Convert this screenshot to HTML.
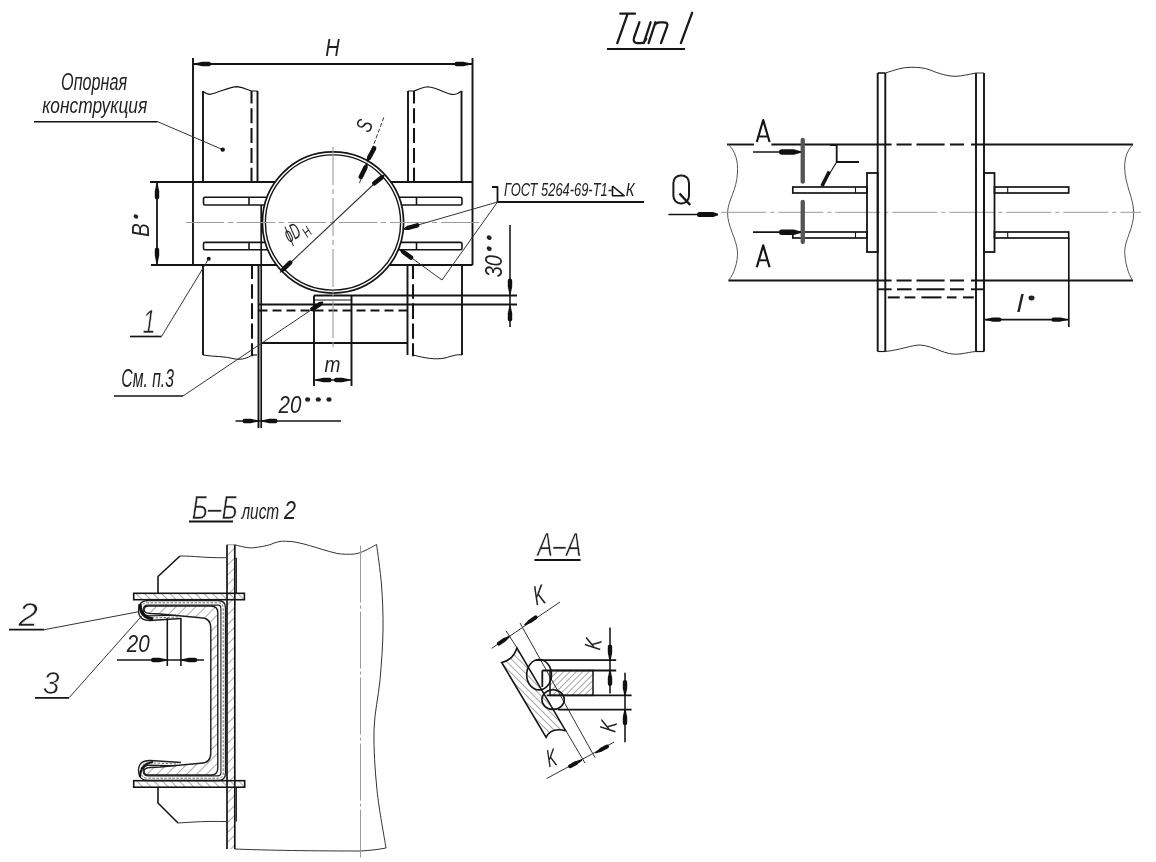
<!DOCTYPE html>
<html><head><meta charset="utf-8"><style>
html,body{margin:0;padding:0;background:#fff;width:1156px;height:862px;overflow:hidden}
svg{display:block;will-change:transform}
text{font-family:"Liberation Sans",sans-serif}
</style></head><body>
<svg width="1156" height="862" viewBox="0 0 1156 862">
<rect width="1156" height="862" fill="#fff"/>
<line x1="193" y1="64" x2="472" y2="64" stroke="#141414" stroke-width="1.8" />
<line x1="202.20" y1="64.00" x2="208.80" y2="64.00" stroke="#111" stroke-width="4.40" stroke-linecap="round"/>
<polygon points="195.00,63.30 201.50,62.02 201.50,65.98 195.00,64.70" fill="#111"/>
<line x1="463.30" y1="64.00" x2="456.70" y2="64.00" stroke="#111" stroke-width="4.40" stroke-linecap="round"/>
<polygon points="470.50,64.70 464.00,65.98 464.00,62.02 470.50,63.30" fill="#111"/>
<line x1="193" y1="58" x2="193" y2="265" stroke="#141414" stroke-width="1.92" />
<line x1="472.5" y1="58" x2="472.5" y2="265" stroke="#141414" stroke-width="1.92" />
<text transform="translate(325.80,56.10) scale(0.8364,1)" x="-0.72" y="0" font-size="23.91" font-style="italic" fill="#222">H</text>
<line x1="203" y1="91" x2="203" y2="182" stroke="#141414" stroke-width="1.92" />
<line x1="257.5" y1="91" x2="257.5" y2="182" stroke="#141414" stroke-width="1.92" />
<line x1="251.5" y1="91" x2="251.5" y2="182" stroke="#141414" stroke-width="2.04" stroke-dasharray="12.5,4.8,15,4.8,15,4.8,15,4.8,15,4.8" />
<line x1="408" y1="91" x2="408" y2="182" stroke="#141414" stroke-width="1.92" />
<line x1="461.5" y1="91" x2="461.5" y2="182" stroke="#141414" stroke-width="1.92" />
<line x1="414" y1="91" x2="414" y2="182" stroke="#141414" stroke-width="2.04" stroke-dasharray="12.5,4.8,15,4.8,15,4.8,15,4.8,15,4.8" />
<path d="M203,91.5 C206,93.5 208,94.4 210,94.4 C220,92 230,86.6 237,86.6 C244,87.5 248,90 251.5,91 L257.5,91" fill="none" stroke="#141414" stroke-width="1.1" />
<path d="M408,91 L414,91 C420,89 424,86.7 428,86.7 C438,87.5 446,94.5 454,94.5 C458,94.5 460,92 461.5,91" fill="none" stroke="#141414" stroke-width="1.1" />
<line x1="150" y1="182" x2="472.5" y2="182" stroke="#141414" stroke-width="1.92" />
<line x1="151" y1="265" x2="472.5" y2="265" stroke="#141414" stroke-width="1.92" />
<rect x="203.5" y="197.2" width="70" height="7.800000000000011" rx="1.5" fill="none" stroke="#141414" stroke-width="1.6"/>
<line x1="249" y1="197.2" x2="249" y2="205" stroke="#141414" stroke-width="1.56" />
<rect x="392" y="197.2" width="70" height="7.800000000000011" rx="1.5" fill="none" stroke="#141414" stroke-width="1.6"/>
<line x1="416.5" y1="197.2" x2="416.5" y2="205" stroke="#141414" stroke-width="1.56" />
<rect x="203.5" y="242.4" width="70" height="7.400000000000006" rx="1.5" fill="none" stroke="#141414" stroke-width="1.6"/>
<line x1="249" y1="242.4" x2="249" y2="249.8" stroke="#141414" stroke-width="1.56" />
<rect x="392" y="242.4" width="70" height="7.400000000000006" rx="1.5" fill="none" stroke="#141414" stroke-width="1.6"/>
<line x1="416.5" y1="242.4" x2="416.5" y2="249.8" stroke="#141414" stroke-width="1.56" />
<line x1="203" y1="265" x2="203" y2="355" stroke="#141414" stroke-width="1.92" />
<line x1="252" y1="265" x2="252" y2="356.3" stroke="#141414" stroke-width="2.04" stroke-dasharray="14,5.2,14.5,4.6,15.7,4.6,15.1,4.6,13" />
<line x1="252" y1="355" x2="257" y2="355" stroke="#141414" stroke-width="1.2" />
<path d="M203,355 C215,357 225,356 235,359 C242,360 248,358 252,355" fill="none" stroke="#141414" stroke-width="1.0" />
<line x1="258.5" y1="265" x2="258.5" y2="428" stroke="#141414" stroke-width="1.92" />
<line x1="261.2" y1="205" x2="261.2" y2="428" stroke="#141414" stroke-width="1.68" />
<line x1="407.5" y1="265" x2="407.5" y2="355" stroke="#141414" stroke-width="1.92" />
<line x1="413" y1="265" x2="413" y2="356.3" stroke="#141414" stroke-width="2.04" stroke-dasharray="14,5.2,14.5,4.6,15.7,4.6,15.1,4.6,13" />
<line x1="462" y1="265" x2="462" y2="355" stroke="#141414" stroke-width="1.92" />
<path d="M413,355 C425,358 435,360 445,358 C452,356 457,354 462,355" fill="none" stroke="#141414" stroke-width="1.0" />
<line x1="314" y1="295.5" x2="517" y2="295.5" stroke="#141414" stroke-width="1.92" />
<line x1="258.5" y1="304.5" x2="517" y2="304.5" stroke="#141414" stroke-width="1.92" />
<line x1="258.5" y1="310.5" x2="407.5" y2="310.5" stroke="#141414" stroke-width="1.92" stroke-dasharray="9,5" />
<line x1="261.5" y1="343" x2="407.5" y2="343" stroke="#141414" stroke-width="1.92" />
<line x1="314" y1="295.5" x2="314" y2="386" stroke="#141414" stroke-width="1.92" />
<line x1="351.5" y1="295.5" x2="351.5" y2="386" stroke="#141414" stroke-width="1.92" />
<line x1="314" y1="300" x2="351.5" y2="300" stroke="#141414" stroke-width="1.0" />
<line x1="314" y1="380" x2="351.5" y2="380" stroke="#141414" stroke-width="1.56" />
<line x1="323.20" y1="380.00" x2="329.30" y2="380.00" stroke="#111" stroke-width="4.40" stroke-linecap="round"/>
<polygon points="316.00,379.30 322.50,378.02 322.50,381.98 316.00,380.70" fill="#111"/>
<line x1="342.30" y1="380.00" x2="336.20" y2="380.00" stroke="#111" stroke-width="4.40" stroke-linecap="round"/>
<polygon points="349.50,380.70 343.00,381.98 343.00,378.02 349.50,379.30" fill="#111"/>
<text transform="translate(324.80,371.90) scale(0.8450,1)" x="-0.34" y="0" font-size="22.59" font-style="italic" fill="#222">m</text>
<line x1="235.5" y1="421" x2="341" y2="421" stroke="#141414" stroke-width="1.56" />
<line x1="250.80" y1="421.00" x2="244.70" y2="421.00" stroke="#111" stroke-width="4.40" stroke-linecap="round"/>
<polygon points="258.00,421.70 251.50,422.98 251.50,419.02 258.00,420.30" fill="#111"/>
<line x1="269.20" y1="421.00" x2="275.30" y2="421.00" stroke="#111" stroke-width="4.40" stroke-linecap="round"/>
<polygon points="262.00,420.30 268.50,419.02 268.50,422.98 262.00,421.70" fill="#111"/>
<text transform="translate(278.50,412.50) scale(0.8662,1)" x="0.12" y="0" font-size="23.71" font-style="italic" fill="#222">20</text>
<ellipse cx="307.6" cy="399.5" rx="2.6" ry="2.2" fill="#222"/>
<ellipse cx="318.3" cy="399.5" rx="2.6" ry="2.2" fill="#222"/>
<ellipse cx="329" cy="399.5" rx="2.6" ry="2.2" fill="#222"/>
<circle cx="333" cy="222.5" r="70.6" fill="#fff" stroke="#141414" stroke-width="1.7"/>
<circle cx="333" cy="222.5" r="67.6" fill="none" stroke="#141414" stroke-width="1.4"/>
<line x1="186" y1="222.5" x2="479" y2="222.5" stroke="#9a9a9a" stroke-width="1.1" stroke-dasharray="38,4,5,4" />
<line x1="333" y1="147" x2="333" y2="350" stroke="#9a9a9a" stroke-width="1.1" stroke-dasharray="38,4,5,4" />
<line x1="157" y1="182" x2="157" y2="265" stroke="#141414" stroke-width="1.8" />
<line x1="157.00" y1="191.20" x2="157.00" y2="197.30" stroke="#111" stroke-width="4.40" stroke-linecap="round"/>
<polygon points="157.70,184.00 158.98,190.50 155.02,190.50 156.30,184.00" fill="#111"/>
<line x1="157.00" y1="255.80" x2="157.00" y2="249.70" stroke="#111" stroke-width="4.40" stroke-linecap="round"/>
<polygon points="156.30,263.00 155.02,256.50 158.98,256.50 157.70,263.00" fill="#111"/>
<text transform="translate(141.20,230.10) rotate(-90) scale(0.8606,1)" x="-7.85" y="8.15" font-size="23.62" font-style="italic" fill="#222">B</text>
<ellipse cx="135.9" cy="216.5" rx="2.4" ry="2" fill="#222" transform="rotate(30 135.9 216.5)"/>
<line x1="383.75" y1="117.5" x2="358.75" y2="185" stroke="#333" stroke-width="1.0" stroke-dasharray="4,2" />
<line x1="369.22" y1="157.50" x2="374.10" y2="148.32" stroke="#111" stroke-width="4.60" stroke-linecap="round"/>
<polygon points="366.58,160.97 367.02,157.24 370.67,159.18 367.82,161.63" fill="#111"/>
<line x1="365.32" y1="167.67" x2="360.77" y2="177.02" stroke="#111" stroke-width="4.60" stroke-linecap="round"/>
<polygon points="367.83,164.11 367.53,167.85 363.81,166.04 366.57,163.49" fill="#111"/>
<text transform="translate(364.30,125.50) rotate(-68) scale(0.7100,1)" x="-7.72" y="7.77" font-size="22.54" font-style="italic" fill="#222">S</text>
<line x1="382.5" y1="176" x2="280" y2="272.5" stroke="#333" stroke-width="1.1" />
<line x1="381.25" y1="177.69" x2="374.33" y2="183.29" stroke="#111" stroke-width="4.60" stroke-linecap="round"/>
<polygon points="384.64,175.84 383.17,178.80 380.57,175.58 383.76,174.76" fill="#111"/>
<line x1="283.74" y1="268.87" x2="290.17" y2="262.71" stroke="#111" stroke-width="4.60" stroke-linecap="round"/>
<polygon points="280.52,270.99 281.73,267.93 284.60,270.92 281.48,272.01" fill="#111"/>
<text transform="translate(293.00,234.30) rotate(-30) scale(0.5314,1)" x="-14.32" y="5.78" font-size="22.46" font-style="italic" fill="#222">ϕD</text>
<text transform="translate(307.00,231.70) rotate(-40) scale(0.6950,1)" x="-5.47" y="5.00" font-size="14.49" font-style="italic" fill="#222">H</text>
<text transform="translate(62.00,89.70) scale(0.6938,1)" x="-1.28" y="0" font-size="23.29" font-style="italic" fill="#222">Опорная</text>
<text transform="translate(42.40,112.80) scale(0.7945,1)" x="-0.33" y="0" font-size="21.85" font-style="italic" fill="#222">конструкция</text>
<line x1="34" y1="121.7" x2="157.7" y2="121.7" stroke="#141414" stroke-width="1.56" />
<line x1="157.7" y1="121.7" x2="222.7" y2="149.6" stroke="#333" stroke-width="1.0" />
<circle cx="222.7" cy="149.6" r="2.2" fill="#111"/>
<circle cx="208.75" cy="258.75" r="2" fill="#111"/>
<line x1="208.75" y1="258.75" x2="161.5" y2="336.5" stroke="#333" stroke-width="1.0" />
<line x1="130" y1="336.5" x2="161.5" y2="336.5" stroke="#141414" stroke-width="1.68" />
<text transform="translate(143.00,332.50) scale(0.7204,1)" x="-0.82" y="0" font-size="32.75" font-style="italic" fill="#222" stroke="#fff" stroke-width="0.6">1</text>
<text transform="translate(122.20,387.00) scale(0.6319,1)" x="-1.37" y="0" font-size="24.86" font-style="italic" fill="#222">См. п.3</text>
<line x1="114" y1="396" x2="183" y2="396" stroke="#141414" stroke-width="1.68" />
<line x1="183" y1="396" x2="323" y2="302" stroke="#333" stroke-width="1.0" />
<line x1="319.92" y1="304.05" x2="312.35" y2="309.10" stroke="#111" stroke-width="4.40" stroke-linecap="round"/>
<polygon points="323.39,302.58 321.60,305.31 319.41,302.02 322.61,301.42" fill="#111"/>
<line x1="510" y1="225" x2="510" y2="327" stroke="#141414" stroke-width="1.56" />
<line x1="510.00" y1="286.80" x2="510.00" y2="280.70" stroke="#111" stroke-width="4.40" stroke-linecap="round"/>
<polygon points="509.30,294.00 508.02,287.50 511.98,287.50 510.70,294.00" fill="#111"/>
<line x1="510.00" y1="313.20" x2="510.00" y2="319.30" stroke="#111" stroke-width="4.40" stroke-linecap="round"/>
<polygon points="510.70,306.00 511.98,312.50 508.02,312.50 509.30,306.00" fill="#111"/>
<text transform="translate(493.90,266.00) rotate(-90) scale(0.8515,1)" x="-13.21" y="8.07" font-size="23.38" font-style="italic" fill="#222">30</text>
<ellipse cx="489.2" cy="237.6" rx="2.6" ry="2.2" fill="#222" transform="rotate(30 489.2 237.6)"/>
<ellipse cx="489.2" cy="248.6" rx="2.6" ry="2.2" fill="#222" transform="rotate(30 489.2 248.6)"/>
<polyline points="492,187 497.5,187 497.5,202 644,202" fill="none" stroke="#141414" stroke-width="1.8" stroke-linejoin="round"/>
<line x1="497.5" y1="202" x2="404" y2="229" stroke="#333" stroke-width="1.0" />
<line x1="408.04" y1="227.86" x2="417.28" y2="225.26" stroke="#111" stroke-width="4.40" stroke-linecap="round"/>
<polygon points="403.81,228.33 406.83,226.15 407.91,229.96 404.19,229.67" fill="#111"/>
<polyline points="497.5,202 442,280 400,249.5" fill="none" stroke="#333" stroke-width="1.0" stroke-linejoin="round"/>
<line x1="403.39" y1="251.98" x2="411.14" y2="257.64" stroke="#111" stroke-width="4.40" stroke-linecap="round"/>
<polygon points="400.41,248.93 403.99,249.97 401.66,253.16 399.59,250.07" fill="#111"/>
<text transform="translate(504.50,195.80) scale(0.6843,1)" x="-0.57" y="0" font-size="18.86" font-style="italic" fill="#222">ГОСТ 5264-69-Т1-</text>
<text transform="translate(626.30,195.80) scale(0.7776,1)" x="-0.57" y="0" font-size="19.13" font-style="italic" fill="#222">К</text>
<polyline points="612.5,186 612.5,195.8 624.3,195.8 612.5,186" fill="none" stroke="#141414" stroke-width="1.56" stroke-linejoin="round"/>
<path d="M620.3,13.7 L635,13.7 M627.7,13.7 L617.3,43.1 M639.4,22.3 L634.1,37.5 Q632.3,43.1 637.8,43.1 L640.5,43.1 Q644.6,43.1 646.2,38.8 M650.6,22.3 L643.8,43.1 M655.4,22.3 L648.6,43.1 M654.3,25.6 Q655.6,22.3 659.6,22.3 L663.5,22.3 Q668.4,22.3 667.2,26.2 L661,43.1 M692.1,12.8 L680.9,43.1" fill="none" stroke="#1a1a1a" stroke-width="2.3" stroke-linecap="round" stroke-linejoin="round"/>
<line x1="607" y1="49" x2="685" y2="49" stroke="#141414" stroke-width="1.92" />
<line x1="727" y1="144.5" x2="754" y2="144.5" stroke="#141414" stroke-width="1.92" />
<line x1="771.4" y1="144.5" x2="891.6" y2="144.5" stroke="#141414" stroke-width="1.92" />
<line x1="896.5" y1="144.5" x2="911.6" y2="144.5" stroke="#141414" stroke-width="2.04" />
<line x1="916.5" y1="144.5" x2="944.6" y2="144.5" stroke="#141414" stroke-width="2.04" />
<line x1="950" y1="144.5" x2="964" y2="144.5" stroke="#141414" stroke-width="2.04" />
<line x1="971" y1="144.5" x2="1133" y2="144.5" stroke="#141414" stroke-width="1.92" />
<line x1="728.5" y1="280.5" x2="891.6" y2="280.5" stroke="#141414" stroke-width="1.92" />
<line x1="896.5" y1="280.5" x2="911.6" y2="280.5" stroke="#141414" stroke-width="2.04" />
<line x1="916.5" y1="280.5" x2="944.6" y2="280.5" stroke="#141414" stroke-width="2.04" />
<line x1="950" y1="280.5" x2="964" y2="280.5" stroke="#141414" stroke-width="2.04" />
<line x1="971" y1="280.5" x2="1133" y2="280.5" stroke="#141414" stroke-width="1.92" />
<path d="M728.5,144.5 C736,152 738,162 737.5,172 C737,190 728,200 727.6,212.5 C727,225 737,240 737.5,252 C738,262 734,274 728.5,280.5" fill="none" stroke="#555" stroke-width="1.0" />
<path d="M1132.8,144.5 C1126,152 1124.5,160 1124.7,168 C1125,185 1133.5,198 1133.7,212.2 C1134,228 1124.5,240 1124.7,252 C1125,262 1128,274 1132.8,280.5" fill="none" stroke="#555" stroke-width="1.0" />
<line x1="721.3" y1="212.3" x2="1141" y2="212.3" stroke="#9a9a9a" stroke-width="1.0" stroke-dasharray="45,4,4,4" />
<line x1="877.7" y1="73" x2="877.7" y2="351.5" stroke="#141414" stroke-width="1.92" />
<line x1="885.3" y1="73" x2="885.3" y2="351.5" stroke="#141414" stroke-width="1.92" />
<line x1="976" y1="73" x2="976" y2="351.5" stroke="#141414" stroke-width="1.92" />
<line x1="984" y1="73" x2="984" y2="351.5" stroke="#141414" stroke-width="1.92" />
<line x1="877.7" y1="73" x2="885.3" y2="73" stroke="#141414" stroke-width="1.56" />
<line x1="976" y1="73" x2="984" y2="73" stroke="#333" stroke-width="1.0" />
<path d="M885.3,73 C895,70 902,67.3 910,67.3 C918,67.3 924,67.5 930,70 C940,74 948,76.3 956,76.3 C962,76 968,74.5 976,73" fill="none" stroke="#333" stroke-width="1.0" />
<path d="M885.3,351.5 C900,350 912,345 920,345 C935,346 945,356 960,354 C967,353 970,352 976,351.5" fill="none" stroke="#333" stroke-width="1.0" />
<line x1="877.7" y1="351.5" x2="885.3" y2="351.5" stroke="#141414" stroke-width="1.2" />
<line x1="976" y1="351.5" x2="984" y2="351.5" stroke="#141414" stroke-width="1.2" />
<line x1="877.7" y1="289.3" x2="891.6" y2="289.3" stroke="#141414" stroke-width="1.92" />
<line x1="897" y1="289.3" x2="911.6" y2="289.3" stroke="#141414" stroke-width="2.04" />
<line x1="916.5" y1="289.3" x2="944.6" y2="289.3" stroke="#141414" stroke-width="2.04" />
<line x1="950" y1="289.3" x2="964" y2="289.3" stroke="#141414" stroke-width="2.04" />
<line x1="971" y1="289.3" x2="984" y2="289.3" stroke="#141414" stroke-width="1.92" />
<line x1="887.8" y1="297.4" x2="899.7" y2="297.4" stroke="#141414" stroke-width="2.04" />
<line x1="904.6" y1="297.4" x2="915.4" y2="297.4" stroke="#141414" stroke-width="2.04" />
<line x1="921.4" y1="297.4" x2="941.4" y2="297.4" stroke="#141414" stroke-width="2.04" />
<line x1="946.8" y1="297.4" x2="956.5" y2="297.4" stroke="#141414" stroke-width="2.04" />
<line x1="963" y1="297.4" x2="973.8" y2="297.4" stroke="#141414" stroke-width="2.04" />
<rect x="867" y="173" width="10.7" height="79" fill="none" stroke="#141414" stroke-width="1.8"/>
<rect x="984" y="173" width="10.5" height="79" fill="none" stroke="#141414" stroke-width="1.8"/>
<rect x="792.8" y="187" width="74.2" height="6" fill="none" stroke="#141414" stroke-width="1.68"/>
<line x1="855.5" y1="187" x2="855.5" y2="193" stroke="#141414" stroke-width="1.1" />
<rect x="994.5" y="187" width="74.2" height="6" fill="none" stroke="#141414" stroke-width="1.68"/>
<line x1="1007.7" y1="187" x2="1007.7" y2="193" stroke="#141414" stroke-width="1.1" />
<rect x="792.8" y="232" width="74.2" height="6" fill="none" stroke="#141414" stroke-width="1.68"/>
<line x1="855.5" y1="232" x2="855.5" y2="238" stroke="#141414" stroke-width="1.1" />
<rect x="994.5" y="232" width="74.2" height="6" fill="none" stroke="#141414" stroke-width="1.68"/>
<line x1="1007.7" y1="232" x2="1007.7" y2="238" stroke="#141414" stroke-width="1.1" />
<line x1="802.75" y1="140" x2="802.75" y2="181.7" stroke="#555" stroke-width="4.32" stroke-linecap="round"/>
<line x1="802.75" y1="202" x2="802.75" y2="242" stroke="#555" stroke-width="4.32" stroke-linecap="round"/>
<line x1="753" y1="152" x2="800" y2="152" stroke="#141414" stroke-width="1.68" />
<line x1="793.30" y1="152.00" x2="781.70" y2="152.00" stroke="#111" stroke-width="5.40" stroke-linecap="round"/>
<polygon points="801.00,152.70 794.50,154.43 794.50,149.57 801.00,151.30" fill="#111"/>
<line x1="753" y1="232.2" x2="800" y2="232.2" stroke="#141414" stroke-width="1.68" />
<line x1="793.30" y1="232.20" x2="781.70" y2="232.20" stroke="#111" stroke-width="5.40" stroke-linecap="round"/>
<polygon points="801.00,232.90 794.50,234.63 794.50,229.77 801.00,231.50" fill="#111"/>
<polyline points="756.8,142 763.2,120 769.6,142" fill="none" stroke="#141414" stroke-width="2.16" stroke-linejoin="round"/>
<line x1="759.2" y1="136.5" x2="767.2" y2="136.5" stroke="#141414" stroke-width="1.92" />
<polyline points="756.8,267.2 763.2,245.4 769.6,267.2" fill="none" stroke="#141414" stroke-width="2.16" stroke-linejoin="round"/>
<line x1="759.8" y1="260.3" x2="766.8" y2="260.3" stroke="#141414" stroke-width="1.92" />
<polyline points="830,145 836.7,145 836.7,162 859,162" fill="none" stroke="#141414" stroke-width="1.8" stroke-linejoin="round"/>
<line x1="836.7" y1="162" x2="822" y2="186" stroke="#141414" stroke-width="1.1" />
<line x1="829.3" y1="171.5" x2="822" y2="186" stroke="#141414" stroke-width="3.6" />
<rect x="673.4" y="175.4" width="15.6" height="28" rx="7.3" fill="none" stroke="#1c1c1c" stroke-width="2"/>
<line x1="679.5" y1="193.5" x2="690.2" y2="205" stroke="#141414" stroke-width="2.4" />
<line x1="668.5" y1="214.5" x2="718" y2="214.5" stroke="#141414" stroke-width="1.68" />
<line x1="712.40" y1="214.50" x2="699.60" y2="214.50" stroke="#111" stroke-width="5.20" stroke-linecap="round"/>
<polygon points="718.00,215.20 713.50,216.84 713.50,212.16 718.00,213.80" fill="#111"/>
<line x1="1068.8" y1="238" x2="1068.8" y2="327" stroke="#141414" stroke-width="1.68" />
<line x1="984" y1="319.6" x2="1068.8" y2="319.6" stroke="#141414" stroke-width="1.56" />
<line x1="993.20" y1="319.60" x2="999.30" y2="319.60" stroke="#111" stroke-width="4.40" stroke-linecap="round"/>
<polygon points="986.00,318.90 992.50,317.62 992.50,321.58 986.00,320.30" fill="#111"/>
<line x1="1059.60" y1="319.60" x2="1053.50" y2="319.60" stroke="#111" stroke-width="4.40" stroke-linecap="round"/>
<polygon points="1066.80,320.30 1060.30,321.58 1060.30,317.62 1066.80,318.90" fill="#111"/>
<text transform="translate(1017.30,311.50) scale(1.2238,1)" x="-0.35" y="0" font-size="23.45" font-style="italic" fill="#222">l</text>
<ellipse cx="1031.5" cy="298" rx="3" ry="2.4" fill="#222"/>
<defs>
<pattern id="h45" width="7" height="7" patternUnits="userSpaceOnUse" patternTransform="rotate(45)">
<line x1="0" y1="0" x2="0" y2="7" stroke="#555" stroke-width="1"/></pattern>
<pattern id="h45b" width="6" height="6" patternUnits="userSpaceOnUse" patternTransform="rotate(-45)">
<line x1="0" y1="0" x2="0" y2="6" stroke="#555" stroke-width="1"/></pattern>
</defs>
<text transform="translate(192.40,518.70) scale(0.7607,1)" x="-0.98" y="0" font-size="32.61" font-style="italic" fill="#222" stroke="#fff" stroke-width="0.6">Б–Б</text>
<line x1="189" y1="521.5" x2="233" y2="521.5" stroke="#141414" stroke-width="1.8" />
<text transform="translate(240.70,518.70) scale(0.7028,1)" x="1.09" y="0" font-size="21.85" font-style="italic" fill="#222">лист</text>
<text transform="translate(284.00,518.70) scale(0.8661,1)" x="0.12" y="0" font-size="25.00" font-style="italic" fill="#222">2</text>
<rect x="227" y="544.8" width="7.8" height="304" fill="url(#h45)" stroke="none"/>
<line x1="227" y1="544.8" x2="227" y2="849" stroke="#141414" stroke-width="1.68" />
<line x1="234.8" y1="544.8" x2="234.8" y2="849" stroke="#141414" stroke-width="1.68" />
<line x1="227" y1="544.8" x2="234.8" y2="544.8" stroke="#777" stroke-width="0.8" />
<path d="M234.8,544.8 C243,547 248,548 252.7,547.9 C260,547 265,546 269.8,544.8 C276,542 280,541 285.4,541.2 C300,541 318,549 336.8,553.4 C343,554.5 350,554.3 354,554.1 C362,553 368,549 376.6,544.5" fill="none" stroke="#333" stroke-width="1.0" />
<path d="M376.6,544.5 C377.4,551.2 380.4,570.8 381.5,585 C382.6,599.2 383.2,614.2 383,630 C382.8,645.8 381.5,663.3 380,680 C378.5,696.7 374.5,711.7 374,730 C373.5,748.3 375.0,770.3 377,790 C379.0,809.7 384.5,838.3 386,848" fill="none" stroke="#333" stroke-width="1.0" />
<path d="M234.6,849 C260,850 300,851 360,851 C370,850.5 378,849.5 386,848" fill="none" stroke="#333" stroke-width="1.0" />
<line x1="360.5" y1="545.6" x2="360.5" y2="857.5" stroke="#9a9a9a" stroke-width="1.0" stroke-dasharray="57,3,3,3" />
<line x1="236.3" y1="557.7" x2="236.3" y2="593" stroke="#141414" stroke-width="1.2" />
<line x1="236.3" y1="787" x2="236.3" y2="821.6" stroke="#141414" stroke-width="1.2" />
<rect x="133.7" y="593.3" width="110.7" height="6.4" fill="url(#h45b)" stroke="#141414" stroke-width="1.6"/>
<rect x="133.7" y="780.7" width="111" height="6.5" fill="url(#h45b)" stroke="#141414" stroke-width="1.6"/>
<polyline points="158,593 158,576.5 180,556" fill="none" stroke="#141414" stroke-width="1.56" stroke-linejoin="round"/>
<path d="M180,556 C195,556 205,558 226,557.7" fill="none" stroke="#333" stroke-width="1.0" />
<polyline points="158,787 158,803 178,823" fill="none" stroke="#141414" stroke-width="1.56" stroke-linejoin="round"/>
<path d="M178,823 C195,822 205,821 226,821.6" fill="none" stroke="#333" stroke-width="1.0" />
<path d="M148,606 L211,606 Q217.8,606 217.8,613 L217.8,768 Q217.8,775 211,775 L148,775 Q144,775 144,771 Q144,768 150,767.5 L160,767 L200.4,763.3 Q210.8,763.3 210.8,753 L210.8,628 Q210.8,617.7 200.4,617.7 L160,614 L150,613.5 Q144,613 144,610 Q144,606 148,606 Z" fill="url(#h45)" stroke="#1c1c1c" stroke-width="1.4"/>
<path d="M181,618.5 L150,620.5 Q138.5,620.5 138.5,610.5 Q138.5,600.5 148,600.5 L218,600.5 Q225.5,600.5 225.5,608.0 L225.5,773.0 Q225.5,780.5 218,780.5 L148,780.5 Q138.5,780.5 138.5,770.5 Q138.5,760.5 150,760.5 L181,762.5" fill="none" stroke="#1c1c1c" stroke-width="1.3"/>
<path d="M178,616.8900000000001 L150,618.2 Q140.8,618.2 140.8,610.5 Q140.8,602.8 148,602.8 L218,602.8 Q223.2,602.8 223.2,608.0 L223.2,773.0 Q223.2,778.2 218,778.2 L148,778.2 Q140.8,778.2 140.8,770.5 Q140.8,762.8 150,762.8 L178,764.11" fill="none" stroke="#555" stroke-width="0.9" stroke-dasharray="2.5,1.5"/>
<path d="M176,615.28 L150,615.9 Q143.1,615.9 143.1,610.5 Q143.1,605.1 148,605.1 L218,605.1 Q220.9,605.1 220.9,608.0 L220.9,773.0 Q220.9,775.9 218,775.9 L148,775.9 Q143.1,775.9 143.1,770.5 Q143.1,765.1 150,765.1 L176,765.72" fill="none" stroke="#1c1c1c" stroke-width="1.1"/>
<path d="M140,604 Q140,617 153,619" stroke="#111" stroke-width="3.2" fill="none"/>
<path d="M140,777 Q140,764 153,762" stroke="#111" stroke-width="2.2" fill="none"/>
<line x1="167.3" y1="618" x2="167.3" y2="666" stroke="#141414" stroke-width="1.56" />
<line x1="180.9" y1="618" x2="180.9" y2="666" stroke="#141414" stroke-width="1.56" />
<line x1="117" y1="660" x2="204" y2="660" stroke="#141414" stroke-width="1.56" />
<line x1="159.30" y1="660.00" x2="153.20" y2="660.00" stroke="#111" stroke-width="4.40" stroke-linecap="round"/>
<polygon points="166.50,660.70 160.00,661.98 160.00,658.02 166.50,659.30" fill="#111"/>
<line x1="188.90" y1="660.00" x2="195.00" y2="660.00" stroke="#111" stroke-width="4.40" stroke-linecap="round"/>
<polygon points="181.70,659.30 188.20,658.02 188.20,661.98 181.70,660.70" fill="#111"/>
<text transform="translate(126.60,651.70) scale(0.8700,1)" x="0.12" y="0" font-size="23.71" font-style="italic" fill="#222">20</text>
<line x1="9" y1="629.7" x2="44.3" y2="629.7" stroke="#141414" stroke-width="1.68" />
<line x1="44.3" y1="629.7" x2="138.75" y2="611.7" stroke="#333" stroke-width="1.0" />
<text transform="translate(18.00,626.10) scale(1.0929,1)" x="0.16" y="0" font-size="32.57" font-style="italic" fill="#222" stroke="#fff" stroke-width="0.6">2</text>
<line x1="35" y1="697.8" x2="69" y2="697.8" stroke="#141414" stroke-width="1.68" />
<line x1="69" y1="697.8" x2="141.7" y2="616" stroke="#333" stroke-width="1.0" />
<text transform="translate(43.60,694.00) scale(0.9550,1)" x="-0.79" y="0" font-size="31.71" font-style="italic" fill="#222" stroke="#fff" stroke-width="0.6">3</text>
<text transform="translate(536.20,556.00) scale(0.7204,1)" x="1.62" y="0" font-size="32.46" font-style="italic" fill="#222" stroke="#fff" stroke-width="0.6">А–А</text>
<line x1="534.5" y1="560" x2="580.6" y2="560" stroke="#141414" stroke-width="1.8" />
<defs><pattern id="h45c" width="5" height="5" patternUnits="userSpaceOnUse" patternTransform="rotate(-45)"><line x1="0" y1="0" x2="0" y2="5" stroke="#444" stroke-width="0.9"/></pattern><pattern id="h45d" width="4.5" height="4.5" patternUnits="userSpaceOnUse" patternTransform="rotate(45)"><line x1="0" y1="0" x2="0" y2="4.5" stroke="#444" stroke-width="0.9"/></pattern></defs>
<path d="M501.7,662.5 L546.1,737.4 Q551,727 565.6,730.7 L516.9,647.9 Q513,660 501.7,662.5 Z" fill="url(#h45c)" stroke="#141414" stroke-width="1.6"/>
<line x1="491.6" y1="648.4" x2="560" y2="602" stroke="#333" stroke-width="1.0" />
<line x1="504.24" y1="639.98" x2="498.90" y2="643.68" stroke="#111" stroke-width="4.00" stroke-linecap="round"/>
<polygon points="510.40,636.58 505.68,641.18 503.63,638.22 509.60,635.42" fill="#111"/>
<line x1="530.29" y1="621.06" x2="535.66" y2="617.41" stroke="#111" stroke-width="4.00" stroke-linecap="round"/>
<polygon points="524.11,624.42 528.86,619.86 530.89,622.83 524.89,625.58" fill="#111"/>
<line x1="506" y1="630.8" x2="517" y2="647.8" stroke="#333" stroke-width="1.0" />
<line x1="520" y1="623" x2="595" y2="757.6" stroke="#333" stroke-width="1.0" />
<line x1="546.7" y1="778.5" x2="614" y2="742.1" stroke="#333" stroke-width="1.0" />
<line x1="575.84" y1="763.12" x2="570.11" y2="766.20" stroke="#111" stroke-width="4.00" stroke-linecap="round"/>
<polygon points="582.33,760.42 577.13,764.47 575.42,761.30 581.67,759.18" fill="#111"/>
<line x1="601.43" y1="749.62" x2="607.12" y2="746.48" stroke="#111" stroke-width="4.00" stroke-linecap="round"/>
<polygon points="594.96,752.39 600.12,748.29 601.86,751.44 595.64,753.61" fill="#111"/>
<line x1="565.5" y1="730" x2="585" y2="763" stroke="#333" stroke-width="1.0" />
<text transform="translate(539.60,594.80) rotate(-15) scale(0.5962,1)" x="-10.05" y="9.50" font-size="27.54" font-style="italic" fill="#222">K</text>
<text transform="translate(551.70,757.60) rotate(-15) scale(0.5755,1)" x="-8.99" y="8.50" font-size="24.64" font-style="italic" fill="#222">K</text>
<line x1="535.7" y1="660.1" x2="616.2" y2="660.1" stroke="#141414" stroke-width="1.8" />
<line x1="542.3" y1="670.5" x2="616.2" y2="670.5" stroke="#141414" stroke-width="1.8" />
<rect x="550" y="670.5" width="43" height="24.9" fill="url(#h45d)" stroke="#141414" stroke-width="1.5"/>
<line x1="546.7" y1="695.4" x2="631.6" y2="695.4" stroke="#141414" stroke-width="1.8" />
<line x1="557.8" y1="709.7" x2="631.6" y2="709.7" stroke="#141414" stroke-width="1.8" />
<line x1="542.3" y1="670.5" x2="542.3" y2="687" stroke="#141414" stroke-width="1.8" />
<ellipse cx="539.1" cy="674.7" rx="12.4" ry="15.2" fill="none" stroke="#141414" stroke-width="1.6"/>
<ellipse cx="553.1" cy="699.6" rx="11.2" ry="9.8" fill="none" stroke="#141414" stroke-width="1.6"/>
<line x1="610" y1="627.5" x2="610" y2="693.6" stroke="#141414" stroke-width="1.56" />
<line x1="610.00" y1="652.90" x2="610.00" y2="646.80" stroke="#111" stroke-width="4.40" stroke-linecap="round"/>
<polygon points="609.30,660.10 608.02,653.60 611.98,653.60 610.70,660.10" fill="#111"/>
<line x1="610.00" y1="677.70" x2="610.00" y2="683.80" stroke="#111" stroke-width="4.40" stroke-linecap="round"/>
<polygon points="610.70,670.50 611.98,677.00 608.02,677.00 609.30,670.50" fill="#111"/>
<text transform="translate(593.20,643.50) rotate(-80) scale(0.7080,1)" x="-8.46" y="8.00" font-size="23.19" font-style="italic" fill="#222">K</text>
<line x1="625" y1="672.7" x2="625" y2="742.2" stroke="#141414" stroke-width="1.56" />
<line x1="625.00" y1="688.20" x2="625.00" y2="682.10" stroke="#111" stroke-width="4.40" stroke-linecap="round"/>
<polygon points="624.30,695.40 623.02,688.90 626.98,688.90 625.70,695.40" fill="#111"/>
<line x1="625.00" y1="716.90" x2="625.00" y2="723.00" stroke="#111" stroke-width="4.40" stroke-linecap="round"/>
<polygon points="625.70,709.70 626.98,716.20 623.02,716.20 624.30,709.70" fill="#111"/>
<text transform="translate(608.50,725.60) rotate(-80) scale(0.7080,1)" x="-8.46" y="8.00" font-size="23.19" font-style="italic" fill="#222">K</text>
</svg></body></html>
